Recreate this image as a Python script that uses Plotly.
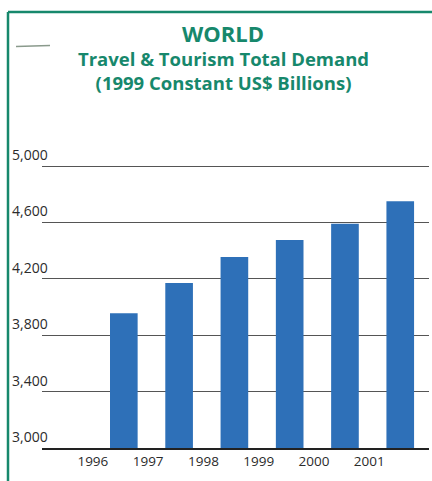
import plotly.graph_objects as go

# Data
years = [1996, 1997, 1998, 1999, 2000, 2001]
demand = [3955, 4170, 4355, 4475, 4590, 4750]
y_ticks = [3000, 3400, 3800, 4200, 4600, 5000]
y_tick_labels = ["3,000", "3,400", "3,800", "4,200", "4,600", "5,000"]
year_labels = ["1996", "1997", "1998", "1999", "2000", "2001"]

# Canvas / plot-area geometry (pixels)
W, H = 432, 481
ML, MR, MT, MB = 42, 3, 130, 33
PW, PH = W - ML - MR, H - MT - MB

def px_x(px):
    return (px - ML) / PW

def px_y(py):
    return (H - MB - py) / PH

GREEN = "#17886c"
BLUE = "#2e70b8"
TEXT = "#2b2b2b"
FONT = "Open Sans"

bar_offset = 0.56  # bars sit to the right of their year label

fig = go.Figure(
    go.Bar(
        x=[y + bar_offset for y in years],
        y=demand,
        width=0.5,
        marker=dict(color=BLUE, line=dict(width=0)),
        hoverinfo="skip",
    )
)

annotations = []
# Y labels sit above-left of each gridline
for v, lab in zip(y_ticks, y_tick_labels):
    annotations.append(dict(
        x=px_x(10), xref="paper", y=v, yref="y",
        text=lab, showarrow=False, xanchor="left", yanchor="bottom",
        yshift=0, font=dict(family=FONT, size=14, color=TEXT),
    ))

# Title block
title_x = px_x(223)
annotations += [
    dict(x=title_x, xref="paper", y=px_y(33), yref="paper", text="<b>WORLD</b>",
         showarrow=False, xanchor="center", yanchor="middle",
         font=dict(family=FONT, size=22, color=GREEN)),
    dict(x=title_x, xref="paper", y=px_y(70), yref="paper",
         text="<b>Travel &amp; Tourism Total Demand</b><br>"
              "<b>(1999 Constant US$ Billions)</b>",
         showarrow=False, xanchor="center", yanchor="middle", align="center",
         font=dict(family=FONT, size=18.5, color=GREEN)),
]

# Green frame (top and left edges visible) and a small grey flourish
shapes = [
    dict(type="line", xref="paper", yref="paper",
         x0=px_x(8), x1=px_x(440), y0=px_y(12), y1=px_y(12),
         line=dict(color=GREEN, width=2.5)),
    dict(type="line", xref="paper", yref="paper",
         x0=px_x(8), x1=px_x(8), y0=px_y(12), y1=px_y(490),
         line=dict(color=GREEN, width=2.5)),
    dict(type="line", xref="paper", yref="paper",
         x0=px_x(16), x1=px_x(50), y0=px_y(46.5), y1=px_y(45.5),
         line=dict(color="#8a9a8c", width=1.5)),
]

fig.update_layout(
    width=W, height=H,
    margin=dict(l=ML, r=MR, t=MT, b=MB, pad=0),
    paper_bgcolor="white", plot_bgcolor="white",
    showlegend=False,
    annotations=annotations,
    shapes=shapes,
    xaxis=dict(
        range=[1995.08, 2002.08],
        tickvals=years, ticktext=year_labels,
        tickfont=dict(family=FONT, size=13.5, color=TEXT),
        ticks="", showgrid=False, zeroline=False,
        showline=True, linecolor="#222", linewidth=2,
        fixedrange=True,
    ),
    yaxis=dict(
        range=[3000, 3000 + 2000 * PH / 282],
        tickvals=y_ticks, showticklabels=False,
        showgrid=True, gridcolor="#555", gridwidth=1,
        zeroline=False, showline=False, ticks="",
        fixedrange=True,
    ),
)

fig.write_html("out.html", config=dict(displayModeBar=False))
